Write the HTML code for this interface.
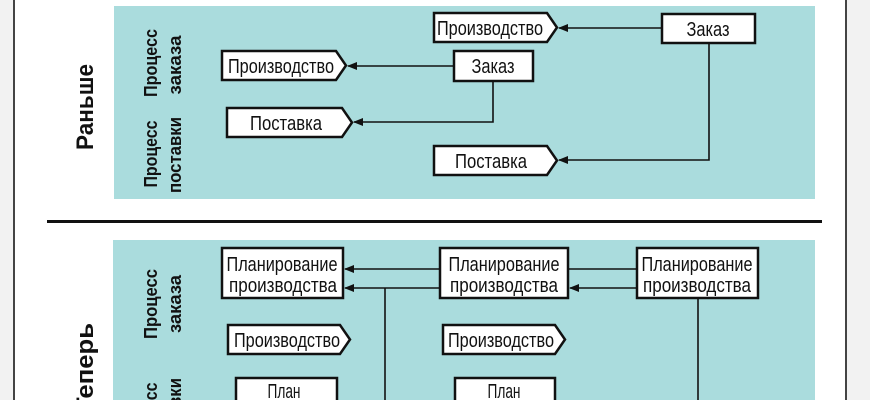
<!DOCTYPE html>
<html><head><meta charset="utf-8"><style>
html,body{margin:0;padding:0;background:#fff;width:870px;height:400px;overflow:hidden;}
svg{display:block;overflow:hidden;}
text{font-family:"Liberation Sans Narrow","Liberation Sans",sans-serif;fill:#111;}
.n{font-size:20px;}
.b{font-weight:bold;font-size:18px;}
.t{font-weight:bold;font-size:24px;}
</style></head><body>
<svg width="870" height="400" viewBox="0 0 870 400" xmlns="http://www.w3.org/2000/svg">
<defs>
<marker id="a" markerWidth="10" markerHeight="8" refX="9" refY="4" orient="auto" markerUnits="userSpaceOnUse">
<path d="M0,0 L10,4 L0,8 Z" fill="#111"/></marker>
</defs>
<rect x="0" y="0" width="13" height="400" fill="#f2f2f2"/>
<rect x="13" y="0" width="2" height="400" fill="#444"/>
<rect x="847" y="0" width="23" height="400" fill="#f2f2f2"/>
<rect x="845" y="0" width="2" height="400" fill="#444"/>
<rect x="114" y="6" width="701" height="193" fill="#aadcdd"/>
<rect x="113" y="240" width="702" height="160" fill="#aadcdd"/>
<rect x="47" y="220" width="775" height="3" fill="#111"/>

<g stroke="#111" stroke-width="1.6" fill="none">
<line x1="662" y1="28" x2="559" y2="28" marker-end="url(#a)"/>
<line x1="454" y1="66" x2="348" y2="66" marker-end="url(#a)"/>
<polyline points="493,81 493,122 354,122" marker-end="url(#a)"/>
<polyline points="709,43 709,160 559,160" marker-end="url(#a)"/>
<line x1="440" y1="269" x2="345" y2="269" marker-end="url(#a)"/>
<line x1="440" y1="288" x2="345" y2="288" marker-end="url(#a)"/>
<line x1="385" y1="288" x2="385" y2="400"/>
<line x1="637" y1="269" x2="568" y2="269"/>
<line x1="637" y1="288" x2="570" y2="288" marker-end="url(#a)"/>
<line x1="698" y1="298" x2="698" y2="400"/>
</g>

<g fill="#fff" stroke="#111" stroke-width="2.5">
<rect x="662" y="14" width="93" height="29"/>
<rect x="454" y="51" width="79" height="30"/>
<polygon points="434,13 547,13 557,27.5 547,42 434,42"/>
<polygon points="222,51 336,51 346,65.5 336,80 222,80"/>
<polygon points="227,108 342,108 352,122.5 342,137 227,137"/>
<polygon points="434,146 547,146 557,160.5 547,175 434,175"/>
<rect x="222" y="248" width="121" height="50"/>
<rect x="440" y="248" width="128" height="50"/>
<rect x="637" y="248" width="121" height="50"/>
<polygon points="228,325 340,325 350,339.5 340,354 228,354"/>
<polygon points="443,325 555,325 565,339.5 555,354 443,354"/>
<rect x="236" y="378" width="101" height="40"/>
<rect x="455" y="378" width="100" height="40"/>
</g>

<g class="n" text-anchor="middle">
<text x="708" y="36" textLength="43" lengthAdjust="spacingAndGlyphs">Заказ</text>
<text x="493" y="73" textLength="43" lengthAdjust="spacingAndGlyphs">Заказ</text>
<text x="490" y="35" textLength="106" lengthAdjust="spacingAndGlyphs">Производство</text>
<text x="281" y="73" textLength="106" lengthAdjust="spacingAndGlyphs">Производство</text>
<text x="286" y="130" textLength="72" lengthAdjust="spacingAndGlyphs">Поставка</text>
<text x="491" y="168" textLength="72" lengthAdjust="spacingAndGlyphs">Поставка</text>
<text x="282" y="271" textLength="111" lengthAdjust="spacingAndGlyphs">Планирование</text>
<text x="283" y="292" textLength="108" lengthAdjust="spacingAndGlyphs">производства</text>
<text x="504" y="271" textLength="111" lengthAdjust="spacingAndGlyphs">Планирование</text>
<text x="504" y="292" textLength="108" lengthAdjust="spacingAndGlyphs">производства</text>
<text x="697" y="271" textLength="111" lengthAdjust="spacingAndGlyphs">Планирование</text>
<text x="697" y="292" textLength="108" lengthAdjust="spacingAndGlyphs">производства</text>
<text x="287" y="347" textLength="106" lengthAdjust="spacingAndGlyphs">Производство</text>
<text x="501" y="347" textLength="106" lengthAdjust="spacingAndGlyphs">Производство</text>
<text x="284" y="398" textLength="33" lengthAdjust="spacingAndGlyphs">План</text>
<text x="504" y="398" textLength="33" lengthAdjust="spacingAndGlyphs">План</text>
</g>

<g text-anchor="middle">
<text class="t" transform="translate(93,107) rotate(-90)" textLength="86" lengthAdjust="spacingAndGlyphs">Раньше</text>
<text class="t" transform="translate(93,368) rotate(-90)" textLength="90" lengthAdjust="spacingAndGlyphs">Теперь</text>
<text class="b" transform="translate(157,63) rotate(-90)" textLength="68" lengthAdjust="spacingAndGlyphs">Процесс</text>
<text class="b" transform="translate(181,65) rotate(-90)" textLength="59" lengthAdjust="spacingAndGlyphs">заказа</text>
<text class="b" transform="translate(157,154) rotate(-90)" textLength="67" lengthAdjust="spacingAndGlyphs">Процесс</text>
<text class="b" transform="translate(181,155) rotate(-90)" textLength="76" lengthAdjust="spacingAndGlyphs">поставки</text>
<text class="b" transform="translate(157,304) rotate(-90)" textLength="70" lengthAdjust="spacingAndGlyphs">Процесс</text>
<text class="b" transform="translate(181,304) rotate(-90)" textLength="58" lengthAdjust="spacingAndGlyphs">заказа</text>
<text class="b" transform="translate(157,416) rotate(-90)" textLength="67" lengthAdjust="spacingAndGlyphs">Процесс</text>
<text class="b" transform="translate(181,416) rotate(-90)" textLength="76" lengthAdjust="spacingAndGlyphs">поставки</text>
</g>
</svg>
</body></html>
